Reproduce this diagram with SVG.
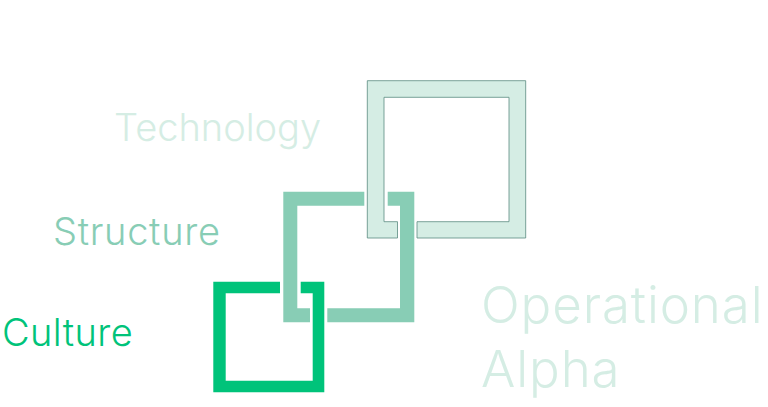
<svg xmlns="http://www.w3.org/2000/svg" width="768" height="407" viewBox="0 0 768 407">
<style>
.lbl{font-family:Inter,"Liberation Sans",sans-serif;font-weight:300}
.tech{fill:#d5ede4}
.str{fill:#88cdb5}
.cul{fill:#00c37a}
</style>
<rect width="768" height="407" fill="#ffffff"/>
<g id="technology-label"><text class="lbl tech" x="114" y="140.7" font-size="38">Technology</text></g>
<g id="structure-label"><text class="lbl str" x="53" y="245" font-size="38" letter-spacing="0.7">Structure</text></g>
<g id="culture-label"><text class="lbl cul" x="2" y="345.7" font-size="38" letter-spacing="0.4">Culture</text></g>
<g id="operational-alpha"><text class="lbl tech" font-size="51" letter-spacing="0.9"><tspan x="481" y="323.3">Operational</tspan><tspan x="481" y="386.7">Alpha</tspan></text></g>
<g id="connectors"></g>
<g id="culture-node">
<path class="cul" d="M280,281.7 H213.3 V392.3 H324.3 V281.7 H300.7 V293.3 H312.7 V380.7 H225.7 V293.3 H280 Z"/>
</g>
<g id="structure-node">
<path class="str" d="M364.3,191.7 H283.3 V322.3 H310 V308.3 H297.3 V205.7 H364.3 Z M387.7,191.7 H414.3 V322.3 H327.3 V308.3 H400 V205.7 H387.7 Z"/>
</g>
<g id="technology-node">
<path class="tech" stroke="#5a8a80" stroke-width="0.8" d="M397.5,238 H367.3 V80.7 H525.7 V238 H417 V221.7 H509 V97.3 H384 V221.7 H397.5 Z"/>
</g>
</svg>
